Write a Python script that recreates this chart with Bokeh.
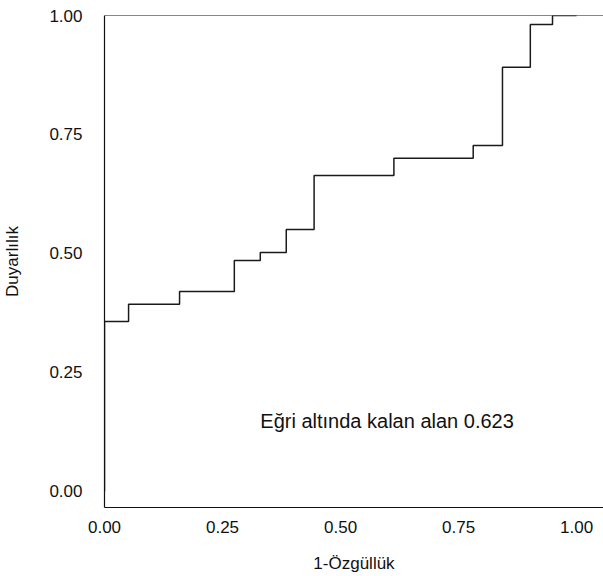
from bokeh.plotting import figure
from bokeh.models import FixedTicker, NumeralTickFormatter, Range1d, Span
from bokeh.core.properties import value
from bokeh.embed import file_html
from bokeh.resources import INLINE

# ROC curve data (1 - specificity, sensitivity)
one_minus_spec = [0.0, 0.0, 0.051, 0.159, 0.275, 0.330, 0.385, 0.444, 0.613, 0.781, 0.843, 0.902, 0.949, 1.0]
sensitivity = [0.0, 0.357, 0.393, 0.420, 0.485, 0.502, 0.550, 0.664, 0.700, 0.727, 0.891, 0.981, 1.0, 1.0]
tick_values = [0.0, 0.25, 0.5, 0.75, 1.0]
auc_text = "Eğri altında kalan alan 0.623"
x_title = "1-Özgüllük"
y_title = "Duyarlılık"

FONT = "Liberation Sans"

p = figure(width=603, height=576, output_backend="svg", toolbar_location=None,
           x_range=Range1d(0.0, 1.057), y_range=Range1d(-0.034, 1.0),
           min_border_left=101, min_border_top=15, min_border_right=0, min_border_bottom=69)

p.outline_line_color = None
p.background_fill_color = "white"
p.border_fill_color = "white"
p.xgrid.grid_line_color = None
p.ygrid.grid_line_color = None

for ax in (p.xaxis[0], p.yaxis[0]):
    ax.ticker = FixedTicker(ticks=tick_values)
    ax.formatter = NumeralTickFormatter(format="0.00")
    ax.major_tick_line_color = None
    ax.minor_tick_line_color = None
    ax.axis_line_color = "#111111"
    ax.axis_line_width = 1.2
    ax.major_label_text_font = FONT
    ax.major_label_text_font_size = "17px"
    ax.major_label_text_color = "#111111"
    ax.axis_label_text_font = FONT
    ax.axis_label_text_font_size = "17px"
    ax.axis_label_text_font_style = "normal"
    ax.axis_label_text_color = "#111111"

p.xaxis.axis_label = x_title
p.yaxis.axis_label = y_title
p.xaxis.major_label_standoff = 7
p.xaxis.axis_label_standoff = 18
p.yaxis.major_label_standoff = 16
p.yaxis.axis_label_standoff = 24

p.add_layout(Span(location=1.0, dimension="width", line_color="#111111", line_width=1.2))

p.step(one_minus_spec, sensitivity, mode="after", line_color="#1a1a1a", line_width=1.5)

p.text(x=[0.33], y=[0.147], text=[auc_text], text_font=value(FONT),
       text_font_size="20px", text_baseline="middle", text_align="left", text_color="#111111")

open("out.html", "w").write(file_html(p, INLINE))
